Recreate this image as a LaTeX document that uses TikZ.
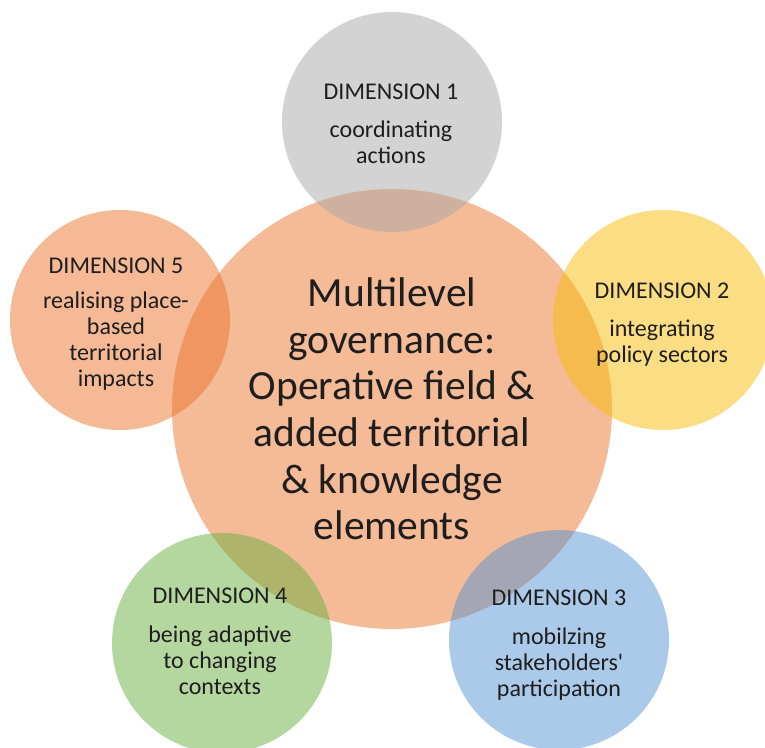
\documentclass[tikz,border=0pt]{standalone}
\usepackage{fontspec}
\setmainfont{Carlito}[Ligatures=TeXOff]
\definecolor{hubfill}{RGB}{245,186,150}
\definecolor{dimgray}{RGB}{167,167,167}
\definecolor{dimyellow}{RGB}{248,188,8}
\definecolor{dimblue}{RGB}{87,147,209}
\definecolor{dimgreen}{RGB}{105,175,65}
\definecolor{dimorange}{RGB}{235,115,45}
\definecolor{ink}{RGB}{30,30,30}
\tikzset{
  hub/.style={circle, inner sep=0pt, minimum size=440pt, fill=hubfill},
  dimcircle/.style={circle, inner sep=0pt, minimum size=220pt, fill=#1, fill opacity=0.5},
  % anchored at the baseline of the last line
  dimtext/.style={align=center, inner sep=0pt, text=ink, anchor=base,
    font=\fontsize{24}{26}\selectfont},
  hubtext/.style={align=center, inner sep=0pt, text=ink,
    font=\fontsize{41.5}{46.6}\selectfont},
}
\begin{document}
\begin{tikzpicture}[x=1pt, y=-1pt]
  \useasboundingbox (0,0) rectangle (765,747);
  % central field
  \node[hub] (hub) at (392,409) {};
  % five surrounding dimensions
  \node[dimcircle=dimgray]   (c1) at (392,122) {};
  \node[dimcircle=dimyellow] (c2) at (663,320) {};
  \node[dimcircle=dimblue]   (c3) at (559,640) {};
  \node[dimcircle=dimgreen]  (c4) at (222,643) {};
  \node[dimcircle=dimorange] (c5) at (120,320) {};
  % labels
  \node[hubtext] (hubl) at (hub.center) {Multilevel\\governance:\\Operative field \&\\added territorial\\\& knowledge\\elements};
  \node[dimtext] (t1) at (391,163) {DIMENSION 1\\[12pt]coordinating\\actions};
  \node[dimtext] (t2) at (662,362) {DIMENSION 2\\[12pt]integrating\\policy sectors};
  \node[dimtext] (t3) at (559,696) {DIMENSION 3\\[13pt]mobilzing\\stakeholders'\\participation};
  \node[dimtext] (t4) at (220,694) {DIMENSION 4\\[13pt]being adaptive\\to changing\\contexts};
  \node[dimtext] (t5) at (116,386) {DIMENSION 5\\[9pt]realising place-\\based\\territorial\\impacts};
\end{tikzpicture}
\end{document}
